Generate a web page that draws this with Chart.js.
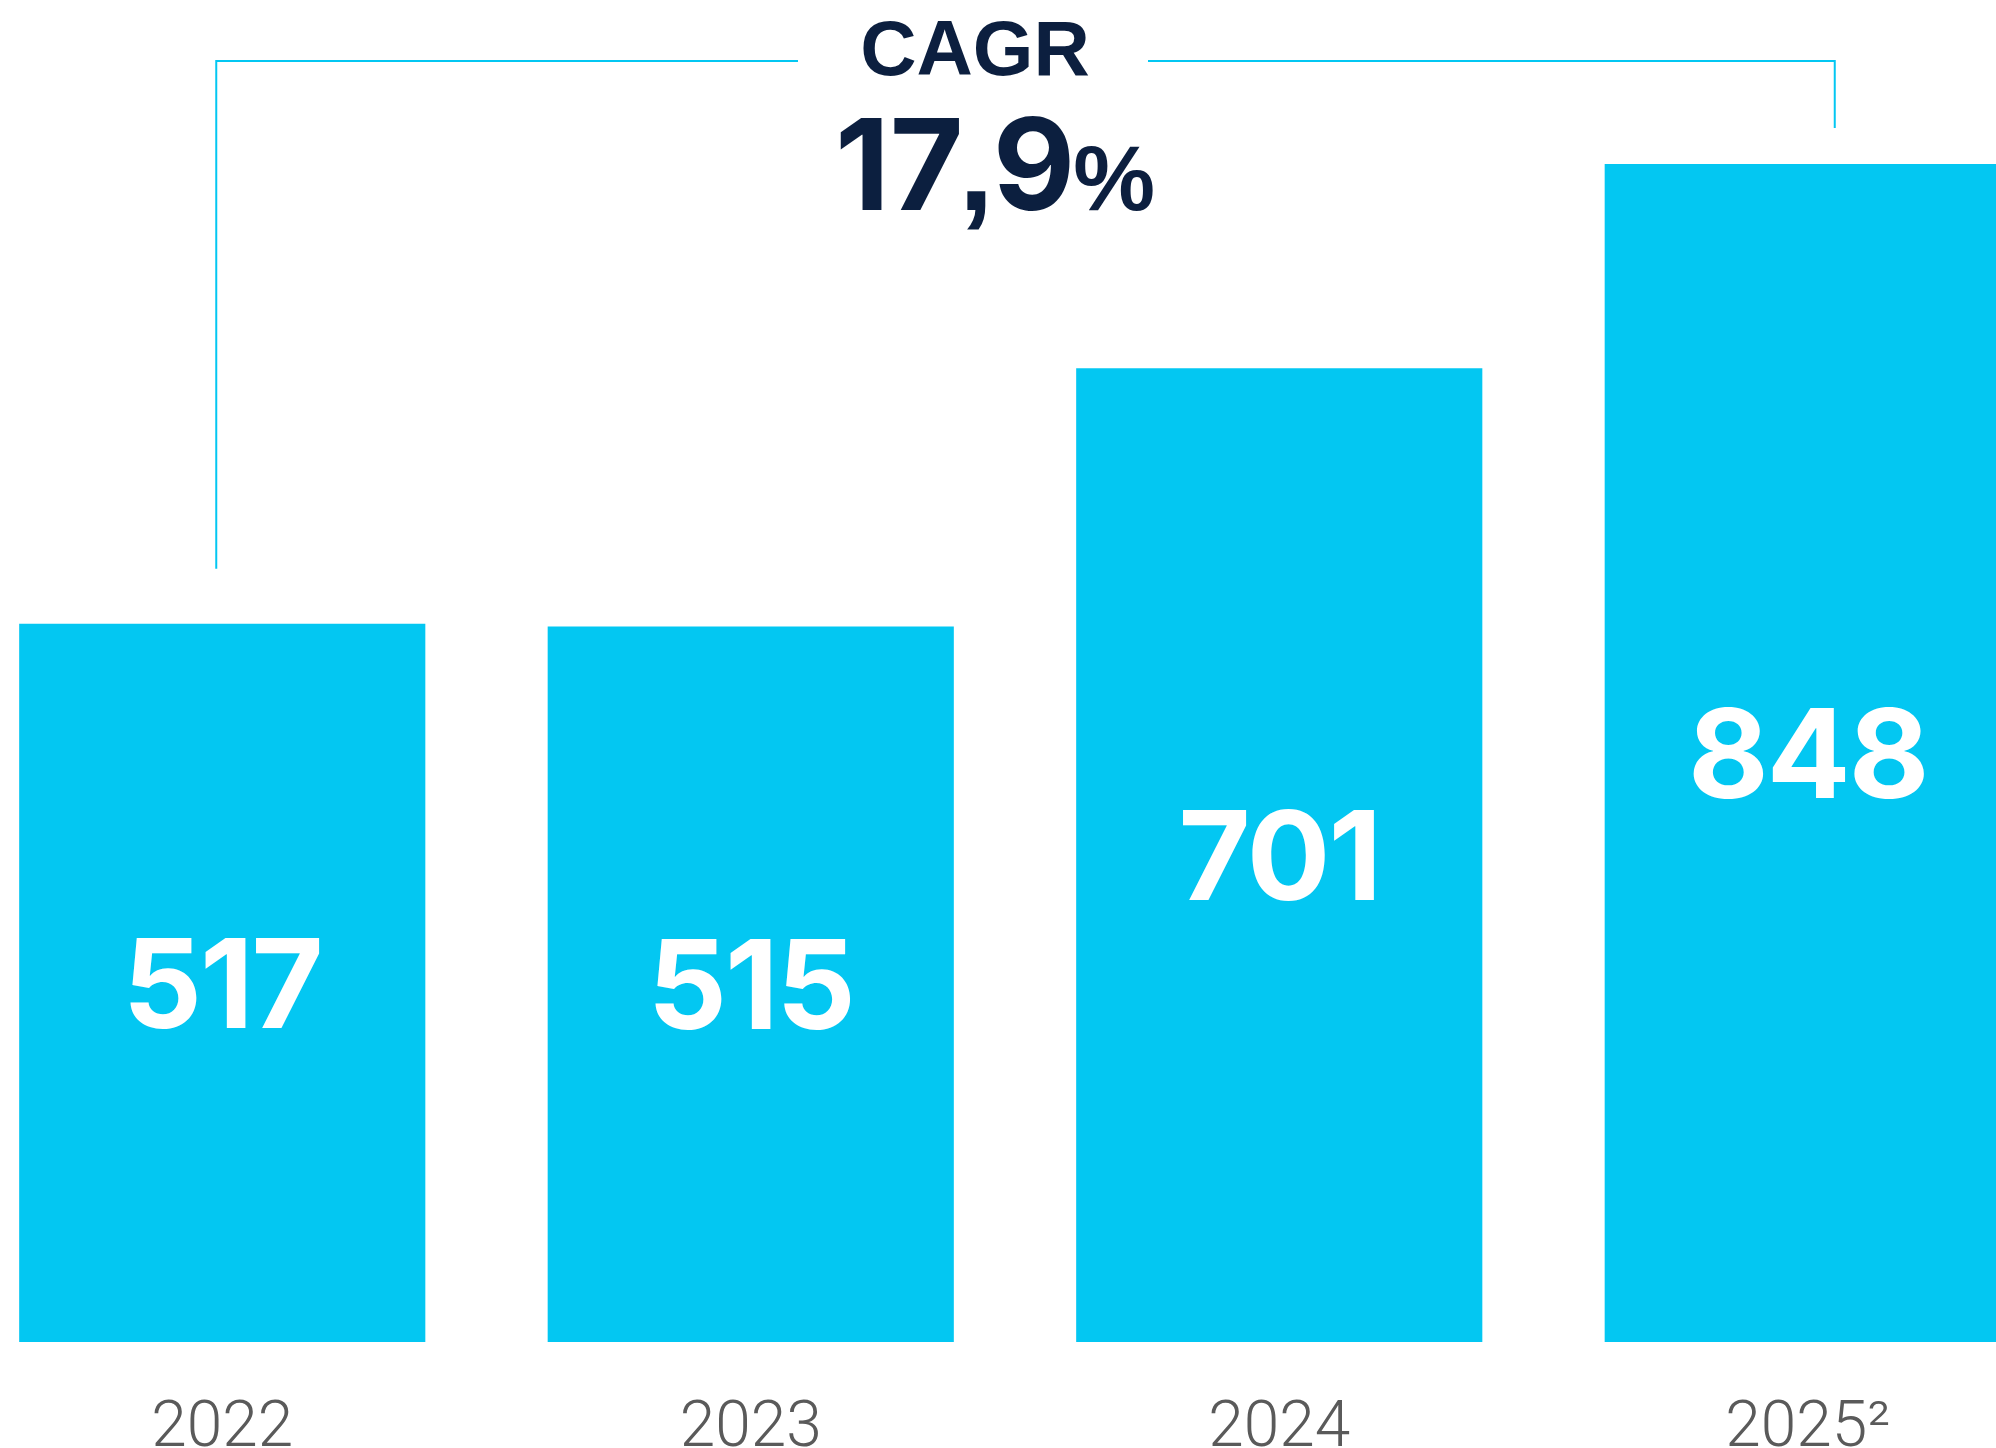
<!DOCTYPE html>
<html>
<head>
<meta charset="utf-8">
<script src="https://cdn.jsdelivr.net/npm/chart.js@4.4.1/dist/chart.umd.min.js"></script>
<style>
  html, body { margin: 0; padding: 0; background: #fff; overflow: hidden; }
  body { width: 1996px; height: 1448px; position: relative; }
  /* chart is a bit wider than the page, the last bar gets cut at the right edge */
  #wrap { position: absolute; left: -42px; top: 0; width: 2114px; height: 1518px; }
</style>
</head>
<body>
<div id="wrap"><canvas id="chart"></canvas></div>
<script>
// data
const years = ['2022', '2023', '2024', '2025\u00b2'];
const values = [517, 515, 701, 848];
const cagrLabel = 'CAGR';
const cagrValue = ['17', ',', '9', '%'];
const yMax = 966;

const cyan = '#03c7f2';
const navy = '#0c1f3f';
const numFont = '"Inter", "Liberation Sans", Arial, sans-serif';
const headFont = '"Liberation Sans", Arial, sans-serif';

// obs: canvasen ligger 42px till vänster om sidan, x nedan är canvas-koordinater
const overlay = {
  id: 'overlay',
  afterDatasetsDraw(chart) {
    const ctx = chart.ctx;
    const bars = chart.getDatasetMeta(0).data;
    ctx.save();
    ctx.textBaseline = 'alphabetic';

    // värden i staplarna
    ctx.fillStyle = '#fff';
    ctx.font = 'bold 124px ' + numFont;
    ctx.textAlign = 'left';
    ctx.letterSpacing = '-2px';
    bars.forEach((bar, i) => {
      const txt = String(values[i]);
      const w = ctx.measureText(txt).width + 2;
      const mid = (bar.y + bar.base) / 2;
      ctx.fillText(txt, bar.x + 1 - w / 2, mid + 45);
    });
    ctx.letterSpacing = '0px';

    // CAGR rubrik
    ctx.fillStyle = navy;
    ctx.textAlign = 'center';
    ctx.font = 'bold 78px ' + headFont;
    ctx.fillText(cagrLabel, 1017, 75);

    // 17,9% - siffrorna i Inter, komma och procent i Liberation
    const fonts = [
      'bold 127px ' + numFont,
      'bold 127px ' + headFont,
      'bold 127px ' + numFont,
      'bold 92px ' + headFont
    ];
    const gaps = [-5, -1, -2, 0];
    ctx.textAlign = 'left';
    const widths = cagrValue.map((s, i) => {
      ctx.font = fonts[i];
      return ctx.measureText(s).width;
    });
    const total = widths.reduce((a, b, i) => a + b + gaps[i], 0);
    let x = 1037 - total / 2;
    cagrValue.forEach((s, i) => {
      ctx.font = fonts[i];
      ctx.fillText(s, x, 210);
      x += widths[i] + gaps[i];
    });

    // klammern
    const lx = bars[0].x - 6;
    const rx = bars[3].x + 27;
    const yTop = 61;
    ctx.strokeStyle = cyan;
    ctx.lineWidth = 2;
    ctx.beginPath();
    ctx.moveTo(lx, bars[0].y - 55);
    ctx.lineTo(lx, yTop);
    ctx.lineTo(840, yTop);
    ctx.moveTo(1190, yTop);
    ctx.lineTo(rx, yTop);
    ctx.lineTo(rx, bars[3].y - 36);
    ctx.stroke();

    ctx.restore();
  }
};

new Chart(document.getElementById('chart'), {
  type: 'bar',
  data: {
    labels: years,
    datasets: [{
      data: values,
      backgroundColor: cyan,
      borderWidth: 0,
      categoryPercentage: 1,
      barPercentage: 0.7685
    }]
  },
  options: {
    responsive: true,
    maintainAspectRatio: false,
    animation: false,
    devicePixelRatio: 1,
    layout: { padding: 0 },
    plugins: {
      legend: { display: false },
      tooltip: { enabled: false }
    },
    scales: {
      x: {
        grid: { display: false, drawTicks: false },
        border: { display: false },
        ticks: {
          color: '#5a5a5a',
          padding: 49.6,
          maxRotation: 0,
          autoSkip: false,
          font: { family: 'Roboto', weight: 300, size: 64, lineHeight: 1.2 }
        }
      },
      y: {
        display: false,
        min: 0,
        max: yMax
      }
    }
  },
  plugins: [overlay]
});
</script>
</body>
</html>
